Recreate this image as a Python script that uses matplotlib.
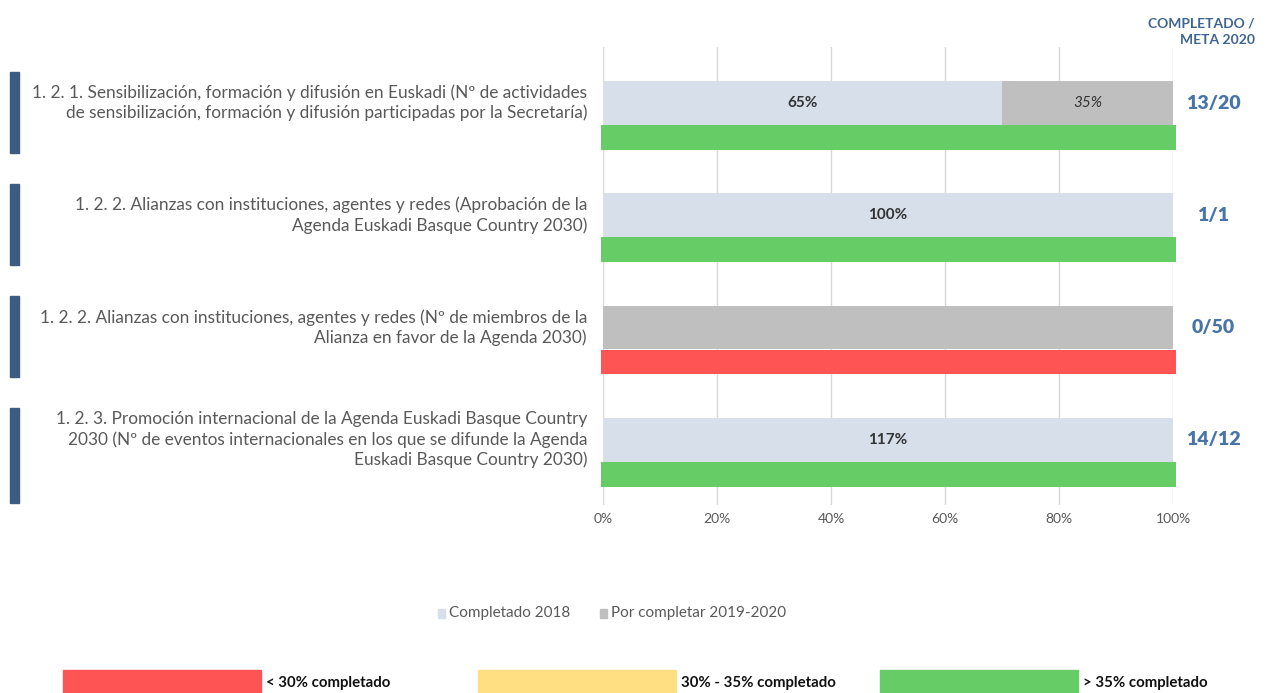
import matplotlib.pyplot as plt
from matplotlib.patches import Rectangle
from matplotlib.transforms import blended_transform_factory

# data
indicadores = [
    "1. 2. 1. Sensibilización, formación y difusión en Euskadi (Nº de actividades\nde sensibilización, formación y difusión participadas por la Secretaría)",
    "1. 2. 2. Alianzas con instituciones, agentes y redes (Aprobación de la\nAgenda Euskadi Basque Country 2030)",
    "1. 2. 2. Alianzas con instituciones, agentes y redes (Nº de miembros de la\nAlianza en favor de la Agenda 2030)",
    "1. 2. 3. Promoción internacional de la Agenda Euskadi Basque Country\n2030 (Nº de eventos internacionales en los que se difunde la Agenda\nEuskadi Basque Country 2030)",
]
completado_2018 = [70, 100, 0, 100]
por_completar = [30, 0, 100, 0]
etiqueta_completado = ["65%", "100%", "", "117%"]
etiqueta_pendiente = ["35%", "", "", ""]
ratio = ["13/20", "1/1", "0/50", "14/12"]
estado = ["verde", "verde", "rojo", "verde"]
x_ticks = [0, 20, 40, 60, 80, 100]

C_AZUL = "#D6DFEA"
C_GRIS = "#BFBFBF"
C_ESTADO = {"rojo": "#FF5454", "amarillo": "#FFDF82", "verde": "#66CC66"}
C_TEXTO = "#595959"
C_RATIO = "#4A74A8"

plt.rcParams["font.family"] = ["Lato", "DejaVu Sans"]

W, H = 1272, 693
fig = plt.figure(figsize=(W / 100, H / 100), dpi=100)
ax = fig.add_axes([603 / W, 1 - 505 / H, 570 / W, 458 / H])

y = list(range(len(indicadores)))
y_main = [i - 0.111 for i in y]
y_estado = [i + 0.196 for i in y]

ax.barh(y_main, completado_2018, height=0.39, color=C_AZUL, zorder=2)
ax.barh(y_main, por_completar, left=completado_2018, height=0.39, color=C_GRIS, zorder=2)
ax.barh(y_estado, 100.8, left=-0.3, height=0.22,
        color=[C_ESTADO[e] for e in estado], zorder=2, clip_on=False)

for i in y:
    if etiqueta_completado[i]:
        ax.text(completado_2018[i] / 2, y_main[i], etiqueta_completado[i],
                ha="center", va="center", fontsize=11, fontweight="bold", color="#333333")
    if etiqueta_pendiente[i]:
        ax.text(completado_2018[i] + por_completar[i] / 2, y_main[i], etiqueta_pendiente[i],
                ha="center", va="center", fontsize=11, style="italic", color="#333333")

ax.set_xlim(0, 100)
ax.set_ylim(3.47, -0.61)
ax.set_xticks(x_ticks)
ax.set_xticklabels([f"{t}%" for t in x_ticks], fontsize=10, color=C_TEXTO)
ax.set_yticks([])
ax.tick_params(axis="x", length=0, pad=6)
ax.grid(axis="x", color="#D9D9D9", linewidth=1, zorder=0)
for s in ax.spines.values():
    s.set_visible(False)

# left labels, markers and right ratios
bt = blended_transform_factory(fig.transFigure, ax.transData)
for i in y:
    nlines = indicadores[i].count("\n") + 1
    fig.text(587 / W, y_main[i], indicadores[i], transform=bt, ha="right", va="center",
             multialignment="right", fontsize=12.4, color=C_TEXTO, linespacing=1.28)
    bottom = i + 0.33 + 0.12 * (nlines - 2)
    top = i - 0.39
    fig.add_artist(Rectangle((10 / W, top), 9 / W, bottom - top, transform=bt,
                             color="#3B5B82"))
    fig.text(1213 / W, y_main[i], ratio[i], transform=bt, ha="center", va="center",
             fontsize=14, fontweight="heavy", color=C_RATIO)

fig.text(1255 / W, 1 - 32 / H, "COMPLETADO /\nMETA 2020", ha="right", va="center",
         multialignment="right", fontsize=10, fontweight="bold", color="#3E6590", linespacing=1.4)

# series legend
fig.add_artist(Rectangle((438 / W, 1 - 618 / H), 7 / W, 9 / H, color=C_AZUL))
fig.text(449 / W, 1 - 613 / H, "Completado 2018", ha="left", va="center", fontsize=11, color=C_TEXTO)
fig.add_artist(Rectangle((600 / W, 1 - 618 / H), 7 / W, 9 / H, color=C_GRIS))
fig.text(611 / W, 1 - 613 / H, "Por completar 2019-2020", ha="left", va="center", fontsize=11, color=C_TEXTO)

# status legend
leyenda_estado = [("rojo", "< 30% completado", 63), ("amarillo", "30% - 35% completado", 478),
                  ("verde", "> 35% completado", 880)]
for clave, texto, x0 in leyenda_estado:
    fig.add_artist(Rectangle((x0 / W, 0), 198 / W, 23 / H, color=C_ESTADO[clave]))
    fig.text((x0 + 203) / W, 1 - 683 / H, texto, ha="left", va="center",
             fontsize=10.8, fontweight="bold", color="#111111")

fig.savefig("out.png", dpi=100)
